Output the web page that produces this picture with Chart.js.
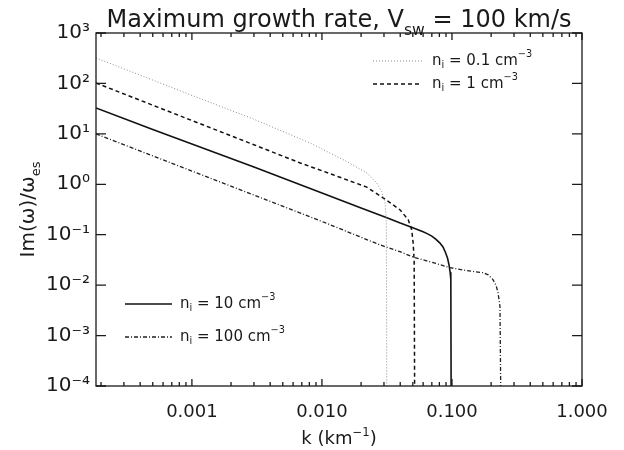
<!DOCTYPE html>
<html lang="en">
<head>
<meta charset="UTF-8">
<title>Maximum growth rate</title>
<script src="https://cdn.jsdelivr.net/npm/chart.js@4.4.1/dist/chart.umd.min.js"></script>
<style>
  body { margin: 0; background: #fff; }
</style>
</head>
<body>
<canvas id="growth-chart" width="624" height="450"></canvas>
<script>
// wavenumber k (km^-1) and growth rate Im(w)/w_es, one pair per ion density
const k01 = [0.000183, 0.001, 0.003, 0.0081, 0.0155, 0.0222, 0.0264, 0.0288, 0.0305, 0.031, 0.0313, 0.0315];
const g01 = [320, 58, 19.5, 6.6, 2.83, 1.67, 1.06, 0.72, 0.457, 0.27, 0.15, 1e-4];

const k1 = [0.000183, 0.001, 0.003, 0.0068, 0.0122, 0.0221, 0.0297, 0.0398, 0.0461, 0.0475, 0.049, 0.0503, 0.0512, 0.0516];
const g1 = [102, 18.4, 6.07, 2.65, 1.54, 0.88, 0.533, 0.313, 0.198, 0.158, 0.126, 0.0686, 0.03, 1e-4];

const k10 = [0.000183, 0.0005, 0.001, 0.003, 0.01, 0.02, 0.0316, 0.04, 0.05, 0.06, 0.065, 0.07, 0.075, 0.0805, 0.0853, 0.089, 0.0925, 0.095, 0.0968, 0.098, 0.0985];
const g10 = [32.7, 12.2, 6.3, 2.2, 0.67, 0.34, 0.217, 0.17, 0.137, 0.114, 0.104, 0.094, 0.082, 0.069, 0.057, 0.045, 0.034, 0.025, 0.018, 0.013, 1e-4];

const k100 = [0.000183, 0.001, 0.003, 0.01, 0.0279, 0.0398, 0.0519, 0.07, 0.0966, 0.13, 0.173, 0.19, 0.2066, 0.218, 0.226, 0.234, 0.237];
const g100 = [10, 1.83, 0.61, 0.183, 0.063, 0.046, 0.035, 0.0285, 0.0222, 0.0194, 0.0177, 0.016, 0.0129, 0.01, 0.0071, 0.00375, 1e-4];

const xTicks = [0.001, 0.01, 0.1, 1];
const xTickLabels = ['0.001', '0.010', '0.100', '1.000'];
const yTicks = [1e-4, 1e-3, 1e-2, 1e-1, 1, 10, 100, 1000];

const FONT = '"DejaVu Sans", sans-serif';
const INK = '#1a1a1a';

const supMap = {'-': '\u207B', '0': '\u2070', '1': '\u00B9', '2': '\u00B2', '3': '\u00B3', '4': '\u2074'};
function supText(s) {
    return s.split('').map(c => supMap[c]).join('');
}

function pairs(xs, ys) {
    return xs.map((x, i) => ({x: x, y: ys[i]}));
}

// text with sub/superscript pieces: parts = [[text, 'n'|'sub'|'sup'], ...]
function drawRich(ctx, x, y, parts, size, align) {
    const pieces = parts.map(p => {
        const s = p[1] === 'n' ? size : size * 0.65;
        ctx.font = s + 'px ' + FONT;
        return {t: p[0], s: s, w: ctx.measureText(p[0]).width,
                dy: p[1] === 'sub' ? size * 0.32 : (p[1] === 'sup' ? -size * 0.42 : 0)};
    });
    const total = pieces.reduce((a, p) => a + p.w, 0);
    let cx = align === 'center' ? x - total / 2 : x;
    ctx.textAlign = 'left';
    pieces.forEach(p => {
        ctx.font = p.s + 'px ' + FONT;
        ctx.fillText(p.t, cx, y + p.dy);
        cx += p.w;
    });
}

const datasets = [
    {label: 'n_i = 0.1', data: pairs(k01, g01), borderColor: '#8a8a8a', borderWidth: 1, borderDash: [1, 2]},
    {label: 'n_i = 1', data: pairs(k1, g1), borderColor: '#111', borderWidth: 1.5, borderDash: [4, 3]},
    {label: 'n_i = 10', data: pairs(k10, g10), borderColor: '#111', borderWidth: 1.6, borderDash: []},
    {label: 'n_i = 100', data: pairs(k100, g100), borderColor: '#222', borderWidth: 1.3, borderDash: [4, 2, 1, 2]}
];

// legend rows: dataset index, sample line start/end, text x, row y, density text
const legendRows = [
    [0, 373, 422, 432, 61, '0.1'],
    [1, 373, 422, 432, 84, '1'],
    [2, 125, 172, 180, 304, '10'],
    [3, 125, 172, 180, 337, '100']
];

const framePlugin = {
    id: 'frame',
    afterDatasetsDraw(chart) {
        const ctx = chart.ctx;
        const a = chart.chartArea;
        const xs = chart.scales.x;
        const ys = chart.scales.y;
        ctx.save();
        ctx.strokeStyle = INK;
        ctx.lineWidth = 1.3;
        ctx.setLineDash([]);
        ctx.strokeRect(a.left, a.top, a.right - a.left, a.bottom - a.top);
        ctx.beginPath();
        // x ticks, major and minor, on bottom and top
        for (let d = -4; d <= 0; d++) {
            for (let m = 1; m <= 9; m++) {
                const v = m * Math.pow(10, d);
                if (v < xs.min || v > xs.max) continue;
                const px = xs.getPixelForValue(v);
                const len = m === 1 ? 7 : 4;
                ctx.moveTo(px, a.bottom); ctx.lineTo(px, a.bottom - len);
                ctx.moveTo(px, a.top); ctx.lineTo(px, a.top + len);
            }
        }
        // y major ticks on left and right
        yTicks.forEach(v => {
            const py = ys.getPixelForValue(v);
            ctx.moveTo(a.left, py); ctx.lineTo(a.left + 10, py);
            ctx.moveTo(a.right, py); ctx.lineTo(a.right - 10, py);
        });
        ctx.stroke();
        ctx.restore();
    },
    afterDraw(chart) {
        const ctx = chart.ctx;
        const a = chart.chartArea;
        const cx = (a.left + a.right) / 2;
        ctx.save();
        ctx.fillStyle = INK;
        ctx.textBaseline = 'alphabetic';
        drawRich(ctx, cx, 27, [['Maximum growth rate, V', 'n'], ['sw', 'sub'], [' = 100 km/s', 'n']], 24, 'center');
        drawRich(ctx, cx, 444, [['k (km', 'n'], ['\u22121', 'sup'], [')', 'n']], 18, 'center');
        ctx.save();
        ctx.translate(34, (a.top + a.bottom) / 2);
        ctx.rotate(-Math.PI / 2);
        drawRich(ctx, 0, 0, [['Im(\u03C9)/\u03C9', 'n'], ['es', 'sub']], 20, 'center');
        ctx.restore();

        // legends inside the plot
        legendRows.forEach(r => {
            const ds = chart.data.datasets[r[0]];
            ctx.save();
            ctx.strokeStyle = ds.borderColor;
            ctx.lineWidth = ds.borderWidth;
            ctx.setLineDash(ds.borderDash);
            ctx.beginPath();
            ctx.moveTo(r[1], r[4]);
            ctx.lineTo(r[2], r[4]);
            ctx.stroke();
            ctx.restore();
            ctx.textBaseline = 'middle';
            drawRich(ctx, r[3], r[4], [['n', 'n'], ['i', 'sub'], [' = ' + r[5] + ' cm', 'n'], ['\u22123', 'sup']], 15, 'left');
        });
        ctx.restore();
    }
};

new Chart('growth-chart', {
    type: 'line',
    data: {datasets: datasets},
    options: {
        responsive: false,
        animation: false,
        layout: {padding: {top: 33, right: 42, left: 0, bottom: 0}},
        elements: {
            point: {radius: 0},
            line: {tension: 0, fill: false}
        },
        plugins: {
            legend: {display: false},
            title: {display: false},
            tooltip: {enabled: false}
        },
        scales: {
            x: {
                type: 'logarithmic',
                min: 0.000183,
                max: 1,
                grid: {display: false, drawTicks: false},
                border: {display: false},
                afterBuildTicks: s => { s.ticks = xTicks.map(v => ({value: v})); },
                afterFit: s => { s.height = 64; },
                ticks: {
                    autoSkip: false,
                    maxRotation: 0,
                    padding: 16,
                    color: INK,
                    font: {family: FONT, size: 18},
                    callback: (v) => xTickLabels[xTicks.indexOf(v)]
                }
            },
            y: {
                type: 'logarithmic',
                min: 1e-4,
                max: 1000,
                grid: {display: false, drawTicks: false},
                border: {display: false},
                afterBuildTicks: s => { s.ticks = yTicks.map(v => ({value: v})); },
                afterFit: s => { s.width = 96; },
                ticks: {
                    autoSkip: false,
                    padding: 6,
                    color: INK,
                    font: {family: FONT, size: 20},
                    callback: (v) => '10' + supText(String(Math.round(Math.log10(v))))
                }
            }
        }
    },
    plugins: [framePlugin]
});
</script>
</body>
</html>
